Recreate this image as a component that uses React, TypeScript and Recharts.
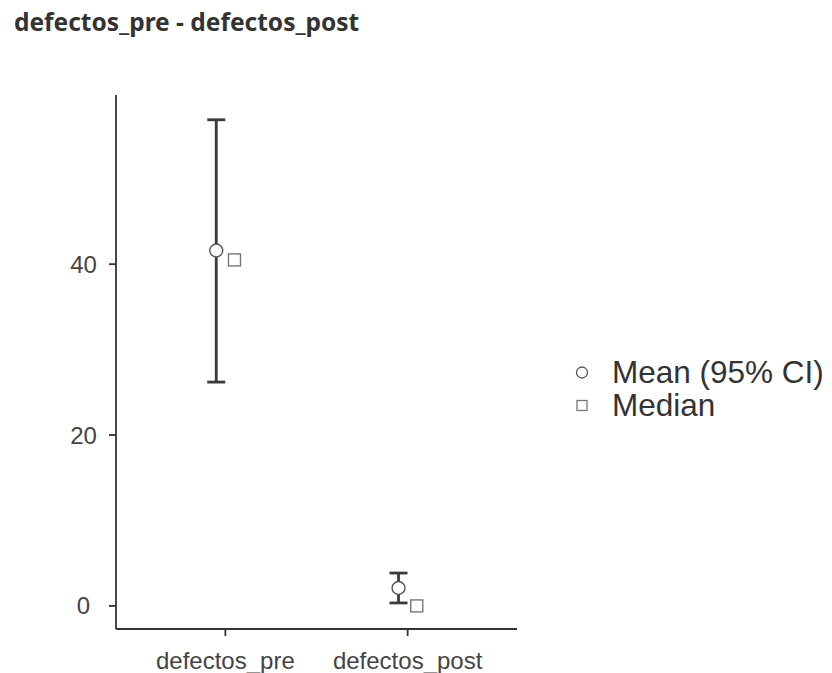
import React from "react";
import { ComposedChart, Scatter, XAxis, YAxis, ErrorBar } from "recharts";

const categories = ["defectos_pre", "defectos_post"];
const meanValues = [41.6, 2.1];
const ciLower = [26.2, 0.35];
const ciUpper = [56.9, 3.85];
const medianValues = [40.5, 0];
const yTicks = [0, 20, 40];
const legendLabels = ["Mean (95% CI)", "Median"];
const titleText = "defectos_pre - defectos_post";

const DODGE = 0.05;

const meanData = categories.map((c, i) => ({
  name: c,
  x: i + 1 - DODGE,
  y: meanValues[i],
  err: [meanValues[i] - ciLower[i], ciUpper[i] - meanValues[i]],
}));
const medianData = categories.map((c, i) => ({
  name: c,
  x: i + 1 + DODGE,
  y: medianValues[i],
}));

const FONT = "'Liberation Sans', Arial, sans-serif";

const MeanShape = (props: any) => {
  const { cx, cy } = props;
  return <circle cx={cx} cy={cy} r={6.5} fill="#ffffff" stroke="#555555" strokeWidth={1.4} />;
};
const MedianShape = (props: any) => {
  const { cx, cy } = props;
  return <rect x={cx - 6} y={cy - 6} width={12} height={12} fill="#ffffff" stroke="#777777" strokeWidth={1.4} />;
};

const YTick = (props: any) => {
  const { x, y, payload } = props;
  return (
    <text x={x - 15.5} y={y} dy="0.355em" textAnchor="middle" fill="#444" fontSize={24} fontFamily={FONT}>
      {payload.value}
    </text>
  );
};

const LegendBox = () => (
  <div
    style={{
      position: "absolute",
      left: 562,
      top: 348,
      fontFamily: FONT,
      fontSize: 31.5,
      color: "#333",
      lineHeight: "33px",
      whiteSpace: "nowrap",
    }}
  >
    {legendLabels.map((l, i) => (
      <div key={l} style={{ display: "flex", alignItems: "center", height: 33 }}>
        <svg width={42} height={33} style={{ display: "block", flex: "none" }}>
          {i === 0 ? (
            <circle cx={12} cy={16.5} r={5.5} fill="#fff" stroke="#555" strokeWidth={1.3} />
          ) : (
            <rect x={7} y={11.5} width={10} height={10} fill="#fff" stroke="#777" strokeWidth={1.3} />
          )}
        </svg>
        <span>{l}</span>
      </div>
    ))}
  </div>
);

export default function App() {
  return (
    <div style={{ position: "relative", width: 816, height: 665 }}>
      <div
        style={{
          position: "absolute",
          left: 6,
          top: -1,
          fontFamily: "'Noto Sans', 'DejaVu Sans', sans-serif",
          fontWeight: 700,
          fontSize: 24.5,
          color: "#333",
          whiteSpace: "nowrap",
          lineHeight: "30px",
        }}
      >
        {titleText}
      </div>
      <ComposedChart
        width={816}
        height={665}
        margin={{ top: 87, right: 307, bottom: 0, left: 0 }}
      >
        <XAxis
          type="number"
          dataKey="x"
          domain={[0.4, 2.6]}
          ticks={[1, 2]}
          tickFormatter={(v: number) => categories[Math.round(v) - 1]}
          axisLine={{ stroke: "#333", strokeWidth: 1.8 }}
          tickLine={{ stroke: "#333", strokeWidth: 1.8 }}
          tickSize={7}
          tickMargin={16}
          height={44}
          tick={{ fill: "#444", fontSize: 24, fontFamily: FONT }}
          allowDataOverflow
        />
        <YAxis
          type="number"
          dataKey="y"
          domain={[-2.7, 59.8]}
          ticks={yTicks}
          axisLine={{ stroke: "#333", strokeWidth: 1.8 }}
          tickLine={{ stroke: "#333", strokeWidth: 1.8 }}
          tickSize={7}
          tickMargin={10}
          width={108}
          tick={<YTick />}
          allowDataOverflow
        />
        <Scatter data={meanData} shape={<MeanShape />} isAnimationActive={false}>
          <ErrorBar dataKey="err" direction="y" width={9} stroke="#3a3a3a" strokeWidth={2.8} />
        </Scatter>
        <Scatter data={medianData} shape={<MedianShape />} isAnimationActive={false} />
      </ComposedChart>
      <LegendBox />
    </div>
  );
}
